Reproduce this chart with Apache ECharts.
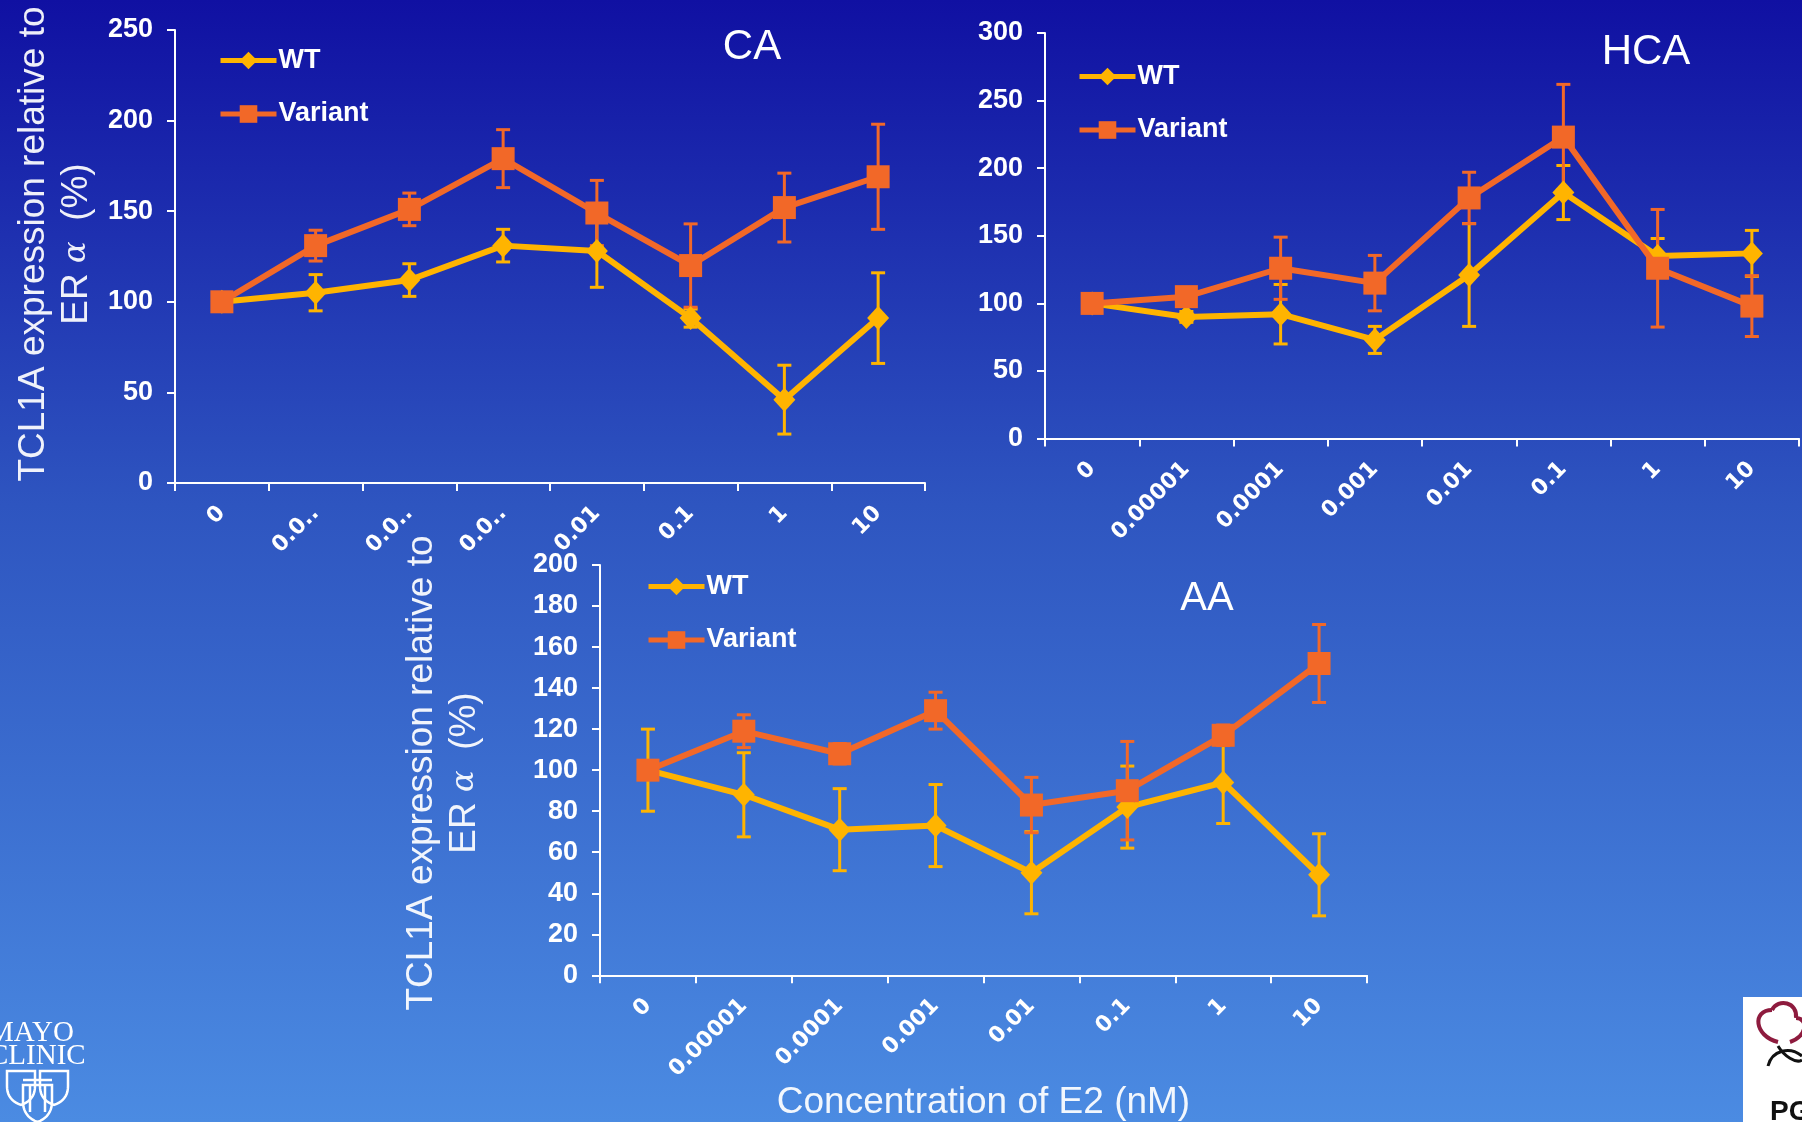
<!DOCTYPE html>
<html>
<head>
<meta charset="utf-8">
<script src="https://cdn.jsdelivr.net/npm/echarts@6/dist/echarts.min.js"></script>
<style>
  html, body { margin: 0; padding: 0; background: #1f3bb0; }
  #chart { width: 1802px; height: 1122px; }
</style>
</head>
<body>
<div id="chart"></div>
<script>
// E2 concentrations (nM) shared by the three panels
const concentrations = ['0', '0.00001', '0.0001', '0.001', '0.01', '0.1', '1', '10'];

// CA panel: mean and error (± value) for each concentration
const caWT         = [100, 105, 112, 131, 128, 91, 46, 91];
const caWTErr      = [0, 10, 9, 9, 20, 5, 19, 25];
const caVariant    = [100, 131, 151, 179, 149, 120, 152, 169];
const caVariantErr = [0, 8.5, 9, 16, 18, 23, 19, 29];

// HCA panel
const hcaWT         = [100, 90, 92, 73, 121, 182, 135, 137];
const hcaWTErr      = [0, 4, 22, 10, 38, 20, 13, 17];
const hcaVariant    = [100, 105, 126, 115, 178, 223, 126, 98];
const hcaVariantErr = [0, 3, 23, 20.5, 19, 39, 43.5, 22.5];

// AA panel
const aaWT         = [100, 88, 71, 73, 50, 82, 94, 49];
const aaWTErr      = [20, 20.5, 20, 20, 20, 20, 20, 20];
const aaVariant    = [100, 119, 108, 129, 83, 90, 117, 152];
const aaVariantErr = [0, 8, 5, 9, 13.5, 24, 5, 19];

// y-axis ranges per panel
const caAxis  = { max: 250, interval: 50 };
const hcaAxis = { max: 300, interval: 50 };
const aaAxis  = { max: 200, interval: 20 };

const WT_COLOR = '#FFB400';
const VARIANT_COLOR = '#F26828';
const TEXT_FONT = 'Liberation Sans, Arial, sans-serif';
const TITLE_COLOR = 'rgba(255,255,255,0.93)';

const chart = echarts.init(document.getElementById('chart'), null, { renderer: 'canvas' });

function errorData(values, errs) {
  return values
    .map((v, i) => [i, v - errs[i], v + errs[i]])
    .filter(d => d[2] > d[1]);
}

function renderErrorBar(params, api) {
  const x = api.value(0);
  const lo = api.coord([x, api.value(1)]);
  const hi = api.coord([x, api.value(2)]);
  const cap = 7;
  const style = { stroke: api.visual('color'), lineWidth: 3 };
  return {
    type: 'group',
    children: [
      { type: 'line', shape: { x1: hi[0], y1: hi[1], x2: lo[0], y2: lo[1] }, style },
      { type: 'line', shape: { x1: hi[0] - cap, y1: hi[1], x2: hi[0] + cap, y2: hi[1] }, style },
      { type: 'line', shape: { x1: lo[0] - cap, y1: lo[1], x2: lo[0] + cap, y2: lo[1] }, style }
    ]
  };
}

function panelSeries(idx, wt, wtErr, variant, variantErr) {
  return [
    {
      name: 'WT error', type: 'custom', xAxisIndex: idx, yAxisIndex: idx,
      renderItem: renderErrorBar, itemStyle: { color: WT_COLOR },
      encode: { x: 0, y: [1, 2] }, data: errorData(wt, wtErr), z: 1, silent: true
    },
    {
      name: 'Variant error', type: 'custom', xAxisIndex: idx, yAxisIndex: idx,
      renderItem: renderErrorBar, itemStyle: { color: VARIANT_COLOR },
      encode: { x: 0, y: [1, 2] }, data: errorData(variant, variantErr), z: 1, silent: true
    },
    {
      name: 'WT', type: 'line', xAxisIndex: idx, yAxisIndex: idx, data: wt,
      symbol: 'diamond', symbolSize: [22, 24], showAllSymbol: true,
      lineStyle: { color: WT_COLOR, width: 6 }, itemStyle: { color: WT_COLOR }, z: 3
    },
    {
      name: 'Variant', type: 'line', xAxisIndex: idx, yAxisIndex: idx, data: variant,
      symbol: 'rect', symbolSize: 23, showAllSymbol: true,
      lineStyle: { color: VARIANT_COLOR, width: 6 }, itemStyle: { color: VARIANT_COLOR }, z: 4
    }
  ];
}

function xAxisFor(idx, formatter) {
  return {
    gridIndex: idx, type: 'category', data: concentrations, boundaryGap: true,
    axisLine: { show: true, lineStyle: { color: '#fff', width: 2 } },
    axisTick: { show: true, length: 8, interval: 0, alignWithLabel: false, lineStyle: { color: '#fff', width: 2 } },
    splitLine: { show: false },
    axisLabel: {
      interval: 0, rotate: 45, margin: 27, color: '#fff',
      fontSize: 22, fontWeight: 'bold', fontFamily: 'DejaVu Sans, sans-serif',
      formatter: formatter
    }
  };
}

function yAxisFor(idx, range) {
  return {
    gridIndex: idx, type: 'value', min: 0, max: range.max, interval: range.interval,
    axisLine: { show: true, lineStyle: { color: '#fff', width: 2 } },
    axisTick: { show: true, length: 8, lineStyle: { color: '#fff', width: 2 } },
    splitLine: { show: false },
    axisLabel: { margin: 22, color: '#fff', fontSize: 27, fontWeight: 'bold', fontFamily: TEXT_FONT }
  };
}

function legendAt(left, top) {
  return {
    left: left, top: top, orient: 'vertical', padding: 0,
    itemWidth: 56, itemHeight: 22, itemGap: 26.5, selectedMode: false,
    data: ['WT', 'Variant'],
    lineStyle: { width: 5 },
    textStyle: { color: '#fff', fontSize: 27, fontWeight: 'bold', fontFamily: TEXT_FONT, padding: [0, 0, 0, -3] }
  };
}

function panelTitle(text, x, y, size) {
  return {
    text: text, left: x, top: y, textAlign: 'center', padding: 0,
    textStyle: { color: '#fff', fontSize: size, fontWeight: 'normal', fontFamily: TEXT_FONT }
  };
}

// CA tick labels are cut short when they do not fit
const shortLabel = v => (v.length > 4 ? v.slice(0, 3) + '..' : v);

const yTitle = 'TCL1A expression relative to\nER {a|α}  (%)';
function yTitleGraphic(x, y) {
  return {
    type: 'text', x: x, y: y, rotation: Math.PI / 2, silent: true,
    style: {
      text: yTitle, align: 'center', verticalAlign: 'middle',
      fill: TITLE_COLOR, font: '37px ' + TEXT_FONT, lineHeight: 43,
      rich: { a: { fontFamily: 'DejaVu Serif, serif', fontStyle: 'italic', fontSize: 32, fill: TITLE_COLOR } }
    }
  };
}

// Shield outline: straight top and sides, curved lower half meeting in a point
function shieldPoints(x, y, w, h) {
  const pts = [[x, y], [x + w, y], [x + w, y + h * 0.45]];
  const steps = 10;
  for (let i = 1; i <= steps; i++) {
    const t = i / steps;
    const px = (1 - t) * (1 - t) * (x + w) + 2 * t * (1 - t) * (x + w) + t * t * (x + w / 2);
    const py = (1 - t) * (1 - t) * (y + h * 0.45) + 2 * t * (1 - t) * (y + h * 0.85) + t * t * (y + h);
    pts.push([px, py]);
  }
  for (let i = 1; i <= steps; i++) {
    const t = i / steps;
    const px = (1 - t) * (1 - t) * (x + w / 2) + 2 * t * (1 - t) * x + t * t * x;
    const py = (1 - t) * (1 - t) * (y + h) + 2 * t * (1 - t) * (y + h * 0.85) + t * t * (y + h * 0.45);
    pts.push([px, py]);
  }
  return pts;
}

const logoStroke = { stroke: '#fff', lineWidth: 2.5, fill: null };
function shield(x, y, w, h) {
  return { type: 'polygon', silent: true, shape: { points: shieldPoints(x, y, w, h) }, style: logoStroke };
}
function logoLine(x1, y1, x2, y2) {
  return { type: 'line', silent: true, shape: { x1, y1, x2, y2 }, style: logoStroke };
}
function curve(x1, y1, cpx1, cpy1, cpx2, cpy2, x2, y2, color, width) {
  return {
    type: 'bezierCurve', silent: true,
    shape: { x1, y1, cpx1, cpy1, cpx2, cpy2, x2, y2 },
    style: { stroke: color, lineWidth: width, fill: null }
  };
}

const option = {
  animation: false,
  backgroundColor: {
    type: 'linear', x: 0, y: 0, x2: 0, y2: 1,
    colorStops: [
      { offset: 0, color: '#1010A2' },
      { offset: 0.45, color: '#2E55C0' },
      { offset: 1, color: '#4B8BE2' }
    ]
  },
  title: [
    panelTitle('CA', 752, 26, 42),
    panelTitle('HCA', 1646, 31, 42),
    panelTitle('AA', 1207, 579, 40)
  ],
  legend: [legendAt(218, 47), legendAt(1077, 63), legendAt(646, 573)],
  grid: [
    { left: 175, top: 30, width: 750, height: 453 },
    { left: 1045, top: 33, width: 754, height: 405.6 },
    { left: 600, top: 565, width: 767, height: 412 }
  ],
  xAxis: [
    xAxisFor(0, shortLabel),
    xAxisFor(1),
    Object.assign(xAxisFor(2), {
      name: 'Concentration of E2 (nM)', nameLocation: 'middle', nameGap: 107,
      nameTextStyle: { color: TITLE_COLOR, fontSize: 37, fontFamily: TEXT_FONT }
    })
  ],
  yAxis: [yAxisFor(0, caAxis), yAxisFor(1, hcaAxis), yAxisFor(2, aaAxis)],
  series: [].concat(
    panelSeries(0, caWT, caWTErr, caVariant, caVariantErr),
    panelSeries(1, hcaWT, hcaWTErr, hcaVariant, hcaVariantErr),
    panelSeries(2, aaWT, aaWTErr, aaVariant, aaVariantErr)
  ),
  graphic: [
    yTitleGraphic(55, 244),
    yTitleGraphic(443, 773),
    // Mayo Clinic mark, bottom left
    { type: 'text', x: -12, y: 1019, silent: true,
      style: { text: 'MAYO', fill: '#fff', font: '29px Liberation Serif, serif' } },
    { type: 'text', x: -11, y: 1042, silent: true,
      style: { text: 'CLINIC', fill: '#fff', font: '29px Liberation Serif, serif' } },
    shield(7, 1071, 28, 34),
    shield(40, 1071, 28, 34),
    shield(23, 1085, 29, 37),
    logoLine(30, 1085, 30, 1112),
    logoLine(45, 1085, 45, 1112),
    logoLine(23, 1080, 52, 1080),
    // partner mark, bottom right
    { type: 'rect', silent: true, shape: { x: 1743, y: 997, width: 60, height: 126 }, style: { fill: '#fff' } },
    curve(1778, 1042, 1754, 1036, 1752, 1010, 1772, 1010, '#8E1B3E', 4),
    curve(1772, 1010, 1778, 998, 1798, 1002, 1796, 1018, '#8E1B3E', 4),
    curve(1796, 1018, 1808, 1018, 1808, 1036, 1790, 1042, '#8E1B3E', 4),
    curve(1768, 1066, 1772, 1050, 1790, 1046, 1802, 1056, '#111', 3),
    curve(1778, 1046, 1784, 1056, 1796, 1064, 1802, 1060, '#111', 3),
    { type: 'text', x: 1770, y: 1098, silent: true,
      style: { text: 'PG', fill: '#111', font: 'bold 28px Liberation Sans, Arial, sans-serif' } }
  ]
};

chart.setOption(option);
</script>
</body>
</html>
